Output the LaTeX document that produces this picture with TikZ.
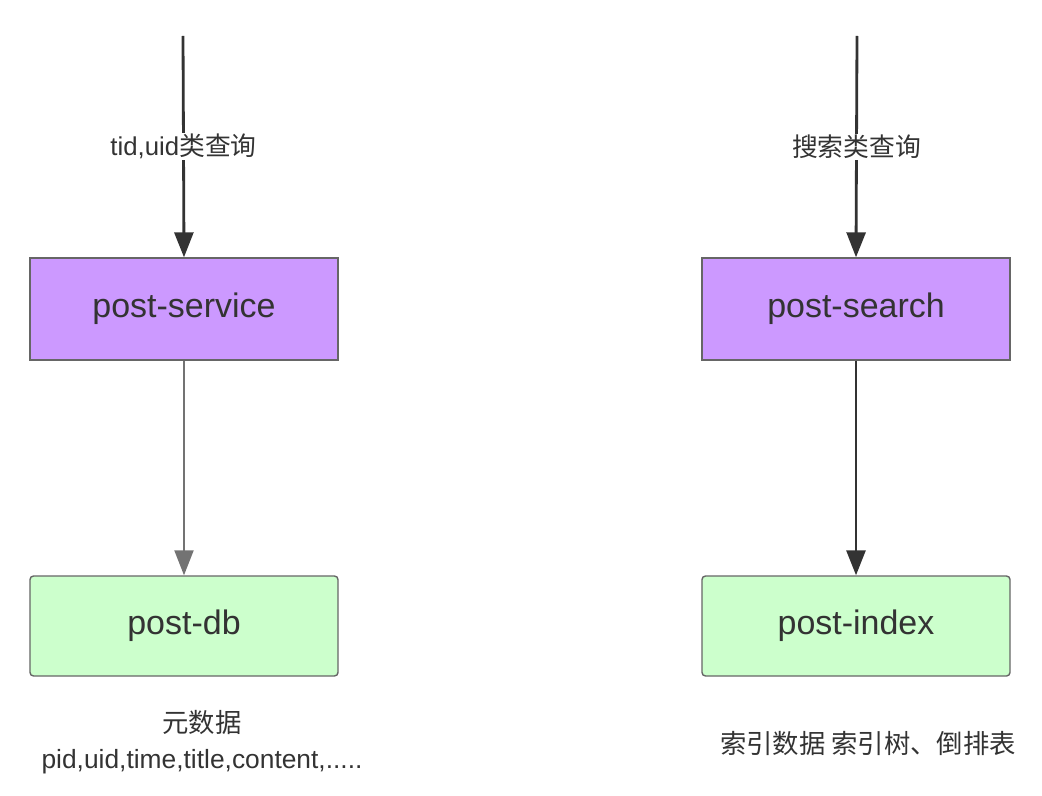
\documentclass[tikz,border=0pt]{standalone}
\usepackage{fontspec}
\setmainfont{Liberation Sans}
\newfontfamily\cjk{Noto Sans CJK SC}
\usetikzlibrary{arrows.meta}
\definecolor{svcfill}{HTML}{CC99FF}
\definecolor{dbfill}{HTML}{CCFFCC}
\definecolor{edge}{HTML}{333333}
\tikzset{
  svcbox/.style={draw=black!60, line width=1.2pt, fill=svcfill, minimum width=9.24cm, minimum height=3.06cm, font=\fontsize{29}{33}\selectfont, text=edge},
  dbbox/.style={svcbox, fill=dbfill, rounded corners=3pt, minimum height=3cm},
  flow/.style={draw=edge, line width=2.4pt, -{Triangle[length=7.5mm,width=5.7mm]}},
  lbl/.style={fill=white, inner sep=1pt, font=\fontsize{22}{26}\selectfont, text=edge},
  note/.style={align=center, font=\fontsize{22.5}{31}\selectfont, text=edge}
}
\begin{document}
\begin{tikzpicture}[x=0.03cm, y=-0.03cm]
        \useasboundingbox (0,0) rectangle (1042,796);
        \coordinate (in1) at (183,36);
        \coordinate (in2) at (857,36);
        \node[svcbox] (service) at (184,309) {post-service};
        \node[svcbox] (search) at (856,309) {post-search};
        \node[dbbox] (db) at (184,626) {post-db};
        \node[dbbox] (index) at (856,626) {post-index};
        \draw[flow] (in1) -- (service.north) node[lbl, pos=.5] {tid,uid{\cjk 类查询}};
        \draw[flow] (in2) -- (search.north) node[lbl, pos=.5] {\cjk 搜索类查询};
        \draw[flow, draw=black!55, line width=1.8pt] (service) -- (db);
        \draw[flow] (search) -- (index);
        \node[note] (dbnote) at (202,742) {{\cjk 元数据}\\pid,uid,time,title,content,.....};
        \node[note] (indexnote) at (868,744) {\cjk 索引数据 索引树、倒排表};
      \end{tikzpicture}
\end{document}
